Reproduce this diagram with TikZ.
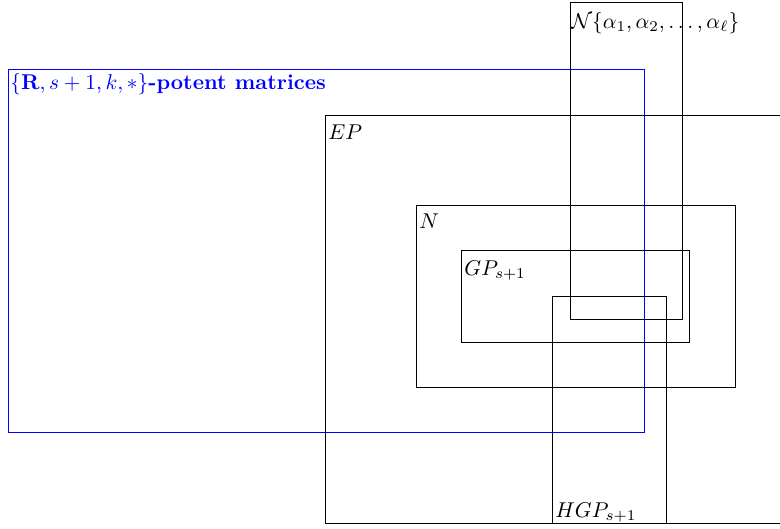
\documentclass[tikz,border=0pt]{standalone}
\usepackage{amsmath,amssymb}
\usepackage{tikz}
\usetikzlibrary{positioning}
\definecolor{potent}{HTML}{0000FF}
\tikzset{
  setbox/.style={draw=black, line width=0.467pt},
  setlabel/.style={anchor=base west, inner sep=0pt}
}

\begin{document}
\begin{tikzpicture}[x=0.467pt,y=-0.467pt]
\useasboundingbox (0,0) rectangle (780,529);
\clip (0,0) rectangle (780,529);

\draw[setbox, draw=potent] (8.5,69.5) rectangle (644.5,432.5);
\node[setlabel, text=potent] (lblR) at (10,89) {\textbf{$\{\mathbf{R},s+1,k,*\}$-potent matrices}};

\draw[setbox] (325.5,115.5) rectangle (800,523.5);
\node[setlabel] (lblEP) at (328,139) {$EP$};

\draw[setbox] (416.5,205.5) rectangle (735.5,387.5);
\node[setlabel] (lblN) at (419,228) {$N$};

\draw[setbox] (461.5,250.5) rectangle (689.5,342.5);
\node[setlabel] (lblGP) at (464,275) {$GP_{s+1}$};

\draw[setbox] (552.5,296.5) rectangle (666.5,523.5);
\node[setlabel] (lblHGP) at (555,517) {$HGP_{s+1}$};

\draw[setbox] (570.5,2.5) rectangle (682.5,319.5);
\node[setlabel] (lblNset) at (571,28) {$\mathcal{N}\{\alpha_1,\alpha_2,\ldots,\alpha_\ell\}$};
\end{tikzpicture}
\end{document}
